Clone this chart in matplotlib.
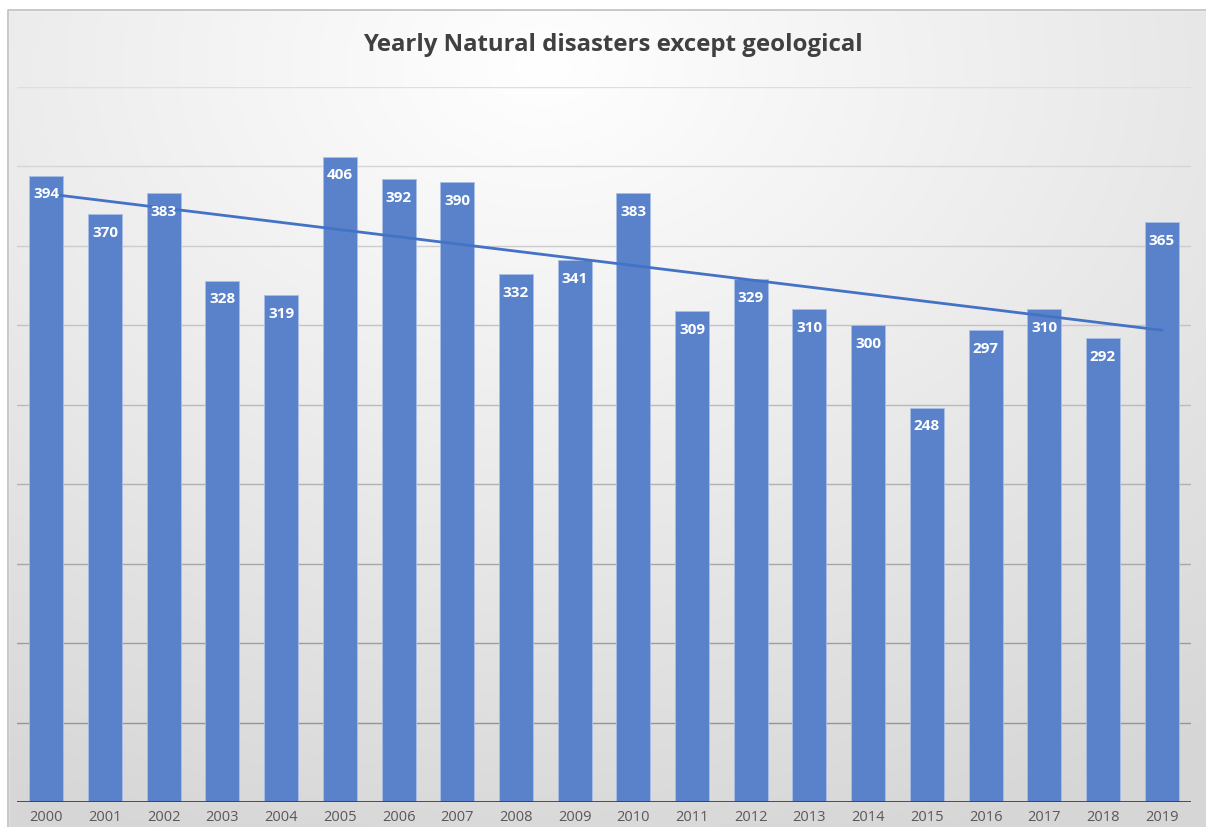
import numpy as np
import matplotlib
matplotlib.use("Agg")
import matplotlib.pyplot as plt
from matplotlib.patches import Rectangle

# data
years = [str(y) for y in range(2000, 2020)]
disasters = [394, 370, 383, 328, 319, 406, 392, 390, 332, 341,
             383, 309, 329, 310, 300, 248, 297, 310, 292, 365]

W, H = 1206, 828
fig = plt.figure(figsize=(W / 100, H / 100), dpi=100)

# radial gradient background inside the chart frame
bg = fig.add_axes([0, 0, 1, 1], zorder=0)
bg.set_axis_off()
xx, yy = np.meshgrid(np.linspace(0, 1, 400), np.linspace(0, 1, 300))
r = np.sqrt(((xx - 0.45) * 1.0) ** 2 + ((yy - 0.92) * 0.95) ** 2)
shade = 1.0 - np.clip(r / 0.95, 0, 1) * 0.16
bg.imshow(np.dstack([shade] * 3), extent=[0, 1, 0, 1], origin="lower",
          aspect="auto", interpolation="bilinear")
bg.set_xlim(0, 1)
bg.set_ylim(0, 1)
# white area outside the frame (top and left margins)
bg.add_patch(Rectangle((0, 1 - 11 / H), 1, 11 / H, color="white", zorder=2))
bg.add_patch(Rectangle((0, 0), 8 / W, 1, color="white", zorder=2))
bg.plot([8 / W, 8 / W, 1], [0, 1 - 11 / H, 1 - 11 / H], color="#bfbfbf", lw=1.2, zorder=3)

ax = fig.add_axes([17 / W, 25 / H, 1174 / W, 715 / H], zorder=1)
ax.patch.set_alpha(0)

x = np.arange(len(years))

# gridlines, darker towards the bottom like the original
for v in range(50, 451, 50):
    t = v / 450
    c = 0.55 + 0.32 * t
    ax.axhline(v, color=(c, c, c), lw=1, zorder=1)

ax.bar(x, disasters, width=0.58, color="#5a82cb", edgecolor="#a9bfe6",
       linewidth=0.6, zorder=2)

# linear trend line
k, b = np.polyfit(x, disasters, 1)
ax.plot(x, k * x + b, color="#4472c4", lw=2, zorder=3)

for xi, v in zip(x, disasters):
    ax.text(xi, v - 11, str(v), ha="center", va="center", color="white",
            fontsize=11, fontweight="bold", family="Open Sans", zorder=4)

ax.axhline(0, color="#404040", lw=2, zorder=5)

ax.set_xlim(-0.5, len(years) - 0.5)
ax.set_ylim(0, 450)
ax.set_xticks(x)
ax.set_xticklabels(years, fontsize=10.5, color="#595959", family="Open Sans")
ax.tick_params(axis="x", length=0, pad=5)
ax.set_yticks([])
for s in ax.spines.values():
    s.set_visible(False)

fig.text(0.5 + 10 / W, 1 - 45 / H, "Yearly Natural disasters except geological",
         ha="center", va="center", fontsize=17.3, fontweight="bold",
         color="#404040", family="Open Sans")

fig.savefig("out.png", dpi=100)
